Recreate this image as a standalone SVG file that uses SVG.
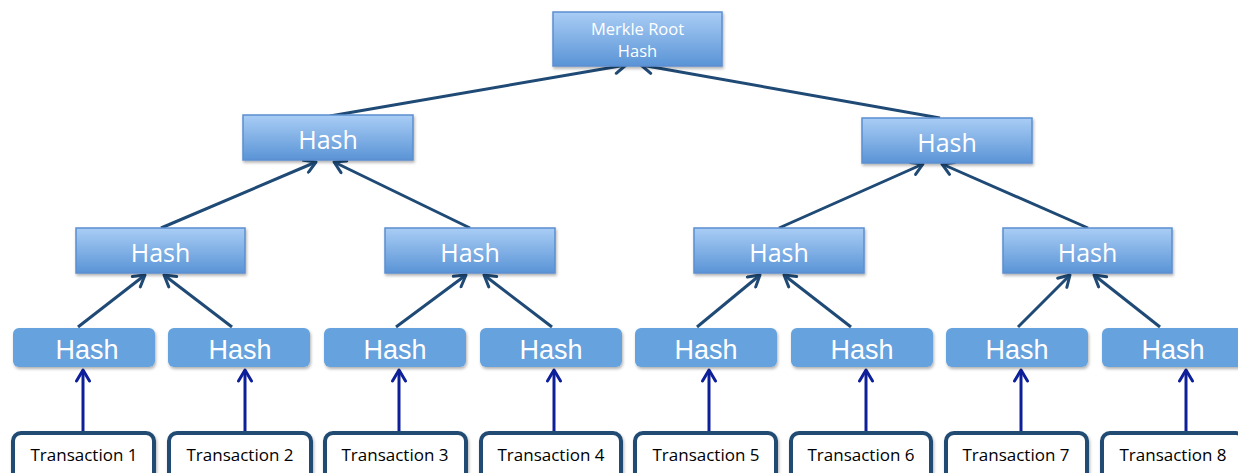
<svg xmlns="http://www.w3.org/2000/svg" width="1238" height="473" viewBox="0 0 1238 473">
<defs>
<linearGradient id="g" x1="0" y1="0" x2="0" y2="1">
<stop offset="0" stop-color="#a9cdf5"/>
<stop offset="1" stop-color="#5a94d6"/>
</linearGradient>
<filter id="sh" x="-10%" y="-20%" width="130%" height="160%">
<feDropShadow dx="1" dy="2" stdDeviation="1.5" flood-color="#000" flood-opacity="0.3"/>
</filter>
<marker id="ah" viewBox="0 0 16 16" refX="13" refY="8" markerWidth="16" markerHeight="16" markerUnits="userSpaceOnUse" orient="auto">
<path d="M2,1.5 L13,8 L2,14.5" fill="none" stroke="#1f4a75" stroke-width="3" stroke-linecap="round" stroke-linejoin="round"/>
</marker>
<marker id="ab" viewBox="0 0 16 16" refX="13" refY="8" markerWidth="16" markerHeight="16" markerUnits="userSpaceOnUse" orient="auto">
<path d="M2,1.5 L13,8 L2,14.5" fill="none" stroke="#0e1f9a" stroke-width="3" stroke-linecap="round" stroke-linejoin="round"/>
</marker>
</defs>
<style>
.gb{fill:url(#g);stroke:#5b8fd0;stroke-width:1.5;filter:url(#sh)}
.fb{fill:#66a2dd;filter:url(#sh)}
.tb{fill:#fff;stroke:#214b73;stroke-width:4;filter:url(#sh)}
.ht{font-family:"Open Sans",sans-serif;font-size:25px;fill:#fff;text-anchor:middle}
.hf{font-family:"Liberation Sans",Arial,sans-serif;font-size:27px;fill:#fff;text-anchor:middle}
.rt{font-family:"Open Sans",sans-serif;font-size:16.5px;fill:#fff;text-anchor:middle}
.tt{font-family:"Open Sans",sans-serif;font-size:17px;fill:#000;text-anchor:middle}
.c{stroke:#1f4a75;stroke-width:3;fill:none;marker-end:url(#ah)}
.v{stroke:#0e1f9a;stroke-width:3;fill:none;marker-end:url(#ab)}
</style>
<g id="connectors">
<line class="c" x1="330" y1="116" x2="626" y2="65"/>
<line class="c" x1="940" y1="118" x2="641" y2="65"/>
<line class="c" x1="161" y1="228" x2="316" y2="162"/>
<line class="c" x1="470" y1="228" x2="334" y2="162"/>
<line class="c" x1="779" y1="228" x2="923" y2="164"/>
<line class="c" x1="1088" y1="228" x2="942" y2="164"/>
<line class="c" x1="78" y1="327" x2="145" y2="275"/>
<line class="c" x1="232" y1="327" x2="164" y2="275"/>
<line class="c" x1="396" y1="327" x2="466" y2="275"/>
<line class="c" x1="552" y1="327" x2="484" y2="275"/>
<line class="c" x1="697" y1="327" x2="760" y2="275"/>
<line class="c" x1="851" y1="327" x2="784" y2="275"/>
<line class="c" x1="1018" y1="327" x2="1070" y2="275"/>
<line class="c" x1="1160" y1="327" x2="1094" y2="275"/>
<line class="v" x1="83" y1="432" x2="83" y2="370"/>
<line class="v" x1="245" y1="432" x2="245" y2="370"/>
<line class="v" x1="399" y1="432" x2="399" y2="370"/>
<line class="v" x1="554" y1="432" x2="554" y2="370"/>
<line class="v" x1="709" y1="432" x2="709" y2="370"/>
<line class="v" x1="866" y1="432" x2="866" y2="370"/>
<line class="v" x1="1021" y1="432" x2="1021" y2="370"/>
<line class="v" x1="1186" y1="432" x2="1186" y2="370"/>
</g>
<g id="root"><rect class="gb" x="553" y="12" width="169" height="54"/><text class="rt" x="637.5" y="35">Merkle Root</text><text class="rt" x="637.5" y="57">Hash</text></g>
<g id="h1a"><rect class="gb" x="243" y="115" width="170" height="45"/><text class="ht" x="328" y="149">Hash</text></g>
<g id="h1b"><rect class="gb" x="862" y="118" width="170" height="45"/><text class="ht" x="947" y="152">Hash</text></g>
<g id="h2a"><rect class="gb" x="76" y="228" width="169" height="45"/><text class="ht" x="160.5" y="262">Hash</text></g>
<g id="h2b"><rect class="gb" x="385" y="228" width="170" height="45"/><text class="ht" x="470" y="262">Hash</text></g>
<g id="h2c"><rect class="gb" x="694" y="228" width="170" height="45"/><text class="ht" x="779" y="262">Hash</text></g>
<g id="h2d"><rect class="gb" x="1003" y="228" width="169" height="45"/><text class="ht" x="1087.5" y="262">Hash</text></g>
<g id="h3a"><rect class="fb" x="13" y="328" width="142" height="39" rx="6"/><text class="hf" x="87" y="359">Hash</text></g>
<g id="h3b"><rect class="fb" x="168" y="328" width="142" height="39" rx="6"/><text class="hf" x="240" y="359">Hash</text></g>
<g id="h3c"><rect class="fb" x="324" y="328" width="142" height="39" rx="6"/><text class="hf" x="395" y="359">Hash</text></g>
<g id="h3d"><rect class="fb" x="480" y="328" width="142" height="39" rx="6"/><text class="hf" x="551" y="359">Hash</text></g>
<g id="h3e"><rect class="fb" x="635" y="328" width="142" height="39" rx="6"/><text class="hf" x="706" y="359">Hash</text></g>
<g id="h3f"><rect class="fb" x="791" y="328" width="142" height="39" rx="6"/><text class="hf" x="862" y="359">Hash</text></g>
<g id="h3g"><rect class="fb" x="946" y="328" width="142" height="39" rx="6"/><text class="hf" x="1017" y="359">Hash</text></g>
<g id="h3h"><rect class="fb" x="1102" y="328" width="142" height="39" rx="6"/><text class="hf" x="1173" y="359">Hash</text></g>
<g id="t1"><rect class="tb" x="13" y="433" width="141" height="48" rx="8"/><text class="tt" x="84" y="461">Transaction 1</text></g>
<g id="t2"><rect class="tb" x="169" y="433" width="142" height="48" rx="8"/><text class="tt" x="240" y="461">Transaction 2</text></g>
<g id="t3"><rect class="tb" x="325" y="433" width="141" height="48" rx="8"/><text class="tt" x="395" y="461">Transaction 3</text></g>
<g id="t4"><rect class="tb" x="481" y="433" width="140" height="48" rx="8"/><text class="tt" x="551" y="461">Transaction 4</text></g>
<g id="t5"><rect class="tb" x="635" y="433" width="141" height="48" rx="8"/><text class="tt" x="706" y="461">Transaction 5</text></g>
<g id="t6"><rect class="tb" x="791" y="433" width="140" height="48" rx="8"/><text class="tt" x="861" y="461">Transaction 6</text></g>
<g id="t7"><rect class="tb" x="946" y="433" width="141" height="48" rx="8"/><text class="tt" x="1016" y="461">Transaction 7</text></g>
<g id="t8"><rect class="tb" x="1102" y="433" width="142" height="48" rx="8"/><text class="tt" x="1173" y="461">Transaction 8</text></g>
</svg>
